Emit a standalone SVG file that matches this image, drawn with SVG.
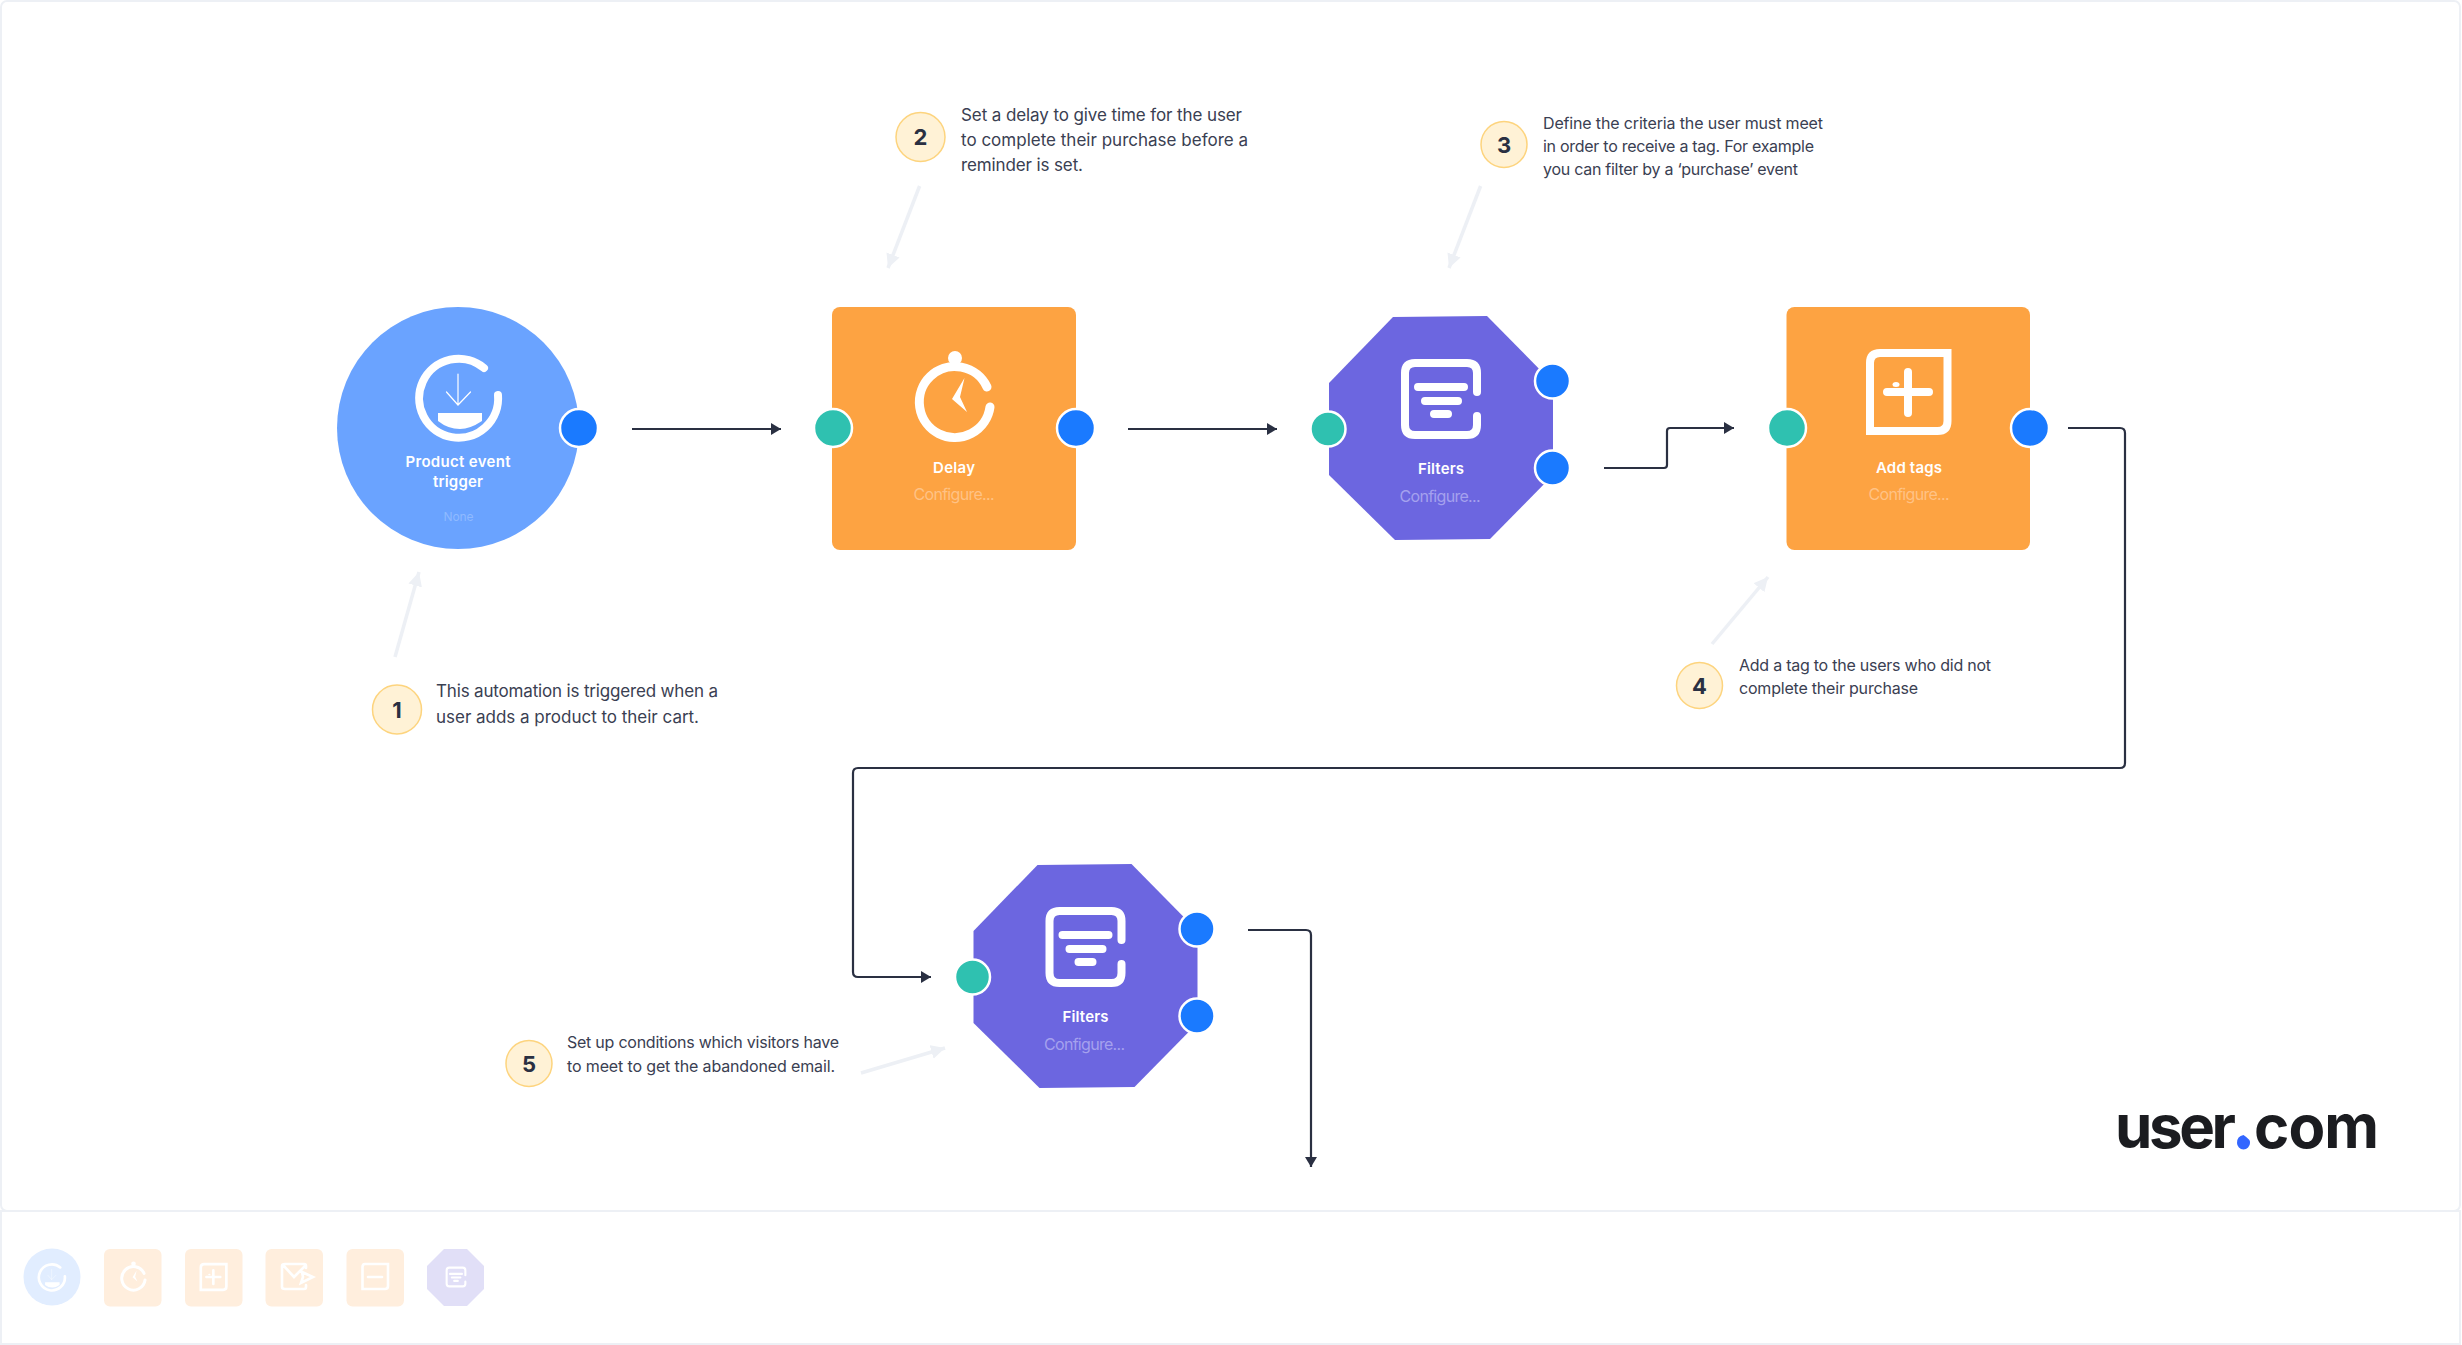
<svg xmlns="http://www.w3.org/2000/svg" xmlns:xlink="http://www.w3.org/1999/xlink" width="2462" height="1345" viewBox="0 0 2462 1345">
<style>
text{font-family:"Inter","Liberation Sans",sans-serif}
.note{font-size:17px;fill:#3a4052}
.note2{font-size:16px;fill:#3a4052}
.num{font-size:22px;font-weight:700;fill:#2a3042;text-anchor:middle}
.badge{fill:#fff2d6;stroke:#fdd47e;stroke-width:1.5}
.title{font-size:15px;font-weight:600;fill:#fff;text-anchor:middle}
.sub{font-size:16px;text-anchor:middle}
.in{fill:#2fc1b0;stroke:#fff;stroke-width:2.5}
.out{fill:#1a7aff;stroke:#fff;stroke-width:2.5}
.flow{fill:none;stroke:#2a3042;stroke-width:2.2;marker-end:url(#ah)}
.hint{fill:none;stroke:#edf0f5;stroke-width:3.5;marker-end:url(#gh)}
.ic{fill:none;stroke:#fff;stroke-linecap:round}
.pal-o{fill:#ffeedd}
.frame{fill:#fff;stroke:#edf0f5;stroke-width:2}
.logo{font-size:60px;font-weight:700;fill:#1b1c20}
</style>
<defs>
<marker id="ah" markerUnits="userSpaceOnUse" markerWidth="12" markerHeight="14" refX="10" refY="6" orient="auto"><path d="M0 0L10 6L0 12Z" fill="#2a3042"/></marker>
<marker id="gh" markerUnits="userSpaceOnUse" markerWidth="16" markerHeight="16" refX="14" refY="7" orient="auto"><path d="M0 0L14 7L0 14Z" fill="#edf0f5"/></marker>
<g id="i-trigger">
<path class="ic" stroke-width="8" d="M484 368A39.5 39.5 0 1 0 498 395"/>
<path class="ic" stroke-width="1.2" d="M458 374V405M446.500 392L458 405L470.500 392"/>
<path fill="#fff" d="M438 413H482V421Q470 429 460 429Q448 429 438 421Z"/>
</g>
<g id="i-clock">
<circle cx="955" cy="358" r="7" fill="#fff"/>
<path class="ic" stroke-width="9" d="M987 387A35.500 35.500 0 1 0 990 407"/>
<path fill="#fff" d="M964.500 378L960 397L967 412L952 399Z"/>
</g>
<g id="i-filter">
<path class="ic" stroke-width="8" d="M1477 392V373Q1477 363 1467 363H1415Q1405 363 1405 373V425Q1405 435 1415 435H1467Q1477 435 1477 425V416"/>
<path class="ic" stroke-width="8" d="M1418 387H1464M1425 401H1458M1434 414H1448"/>
</g>
<g id="i-plus">
<path fill="none" stroke="#fff" stroke-width="8" d="M1947.500 353V421Q1947.500 431 1937.500 431H1870V363Q1870 353 1880 353Z"/>
<path class="ic" stroke-width="8" d="M1887 392H1929M1908 372V413"/>
<ellipse cx="1896" cy="384.500" rx="3.500" ry="2.500" fill="#fff"/>
</g>
<g id="filter-shape">
<path fill="#6c66e0" d="M1393 317L1487 316L1553 383V475L1490 539L1395 540L1329 475V383Z"/>
<use href="#i-filter"/>
<text class="title" x="1441" y="474" textLength="46">Filters</text>
<text class="sub" x="1440" y="502" textLength="81" fill="#a5a1ee">Configure...</text>
<circle class="in" cx="1328" cy="429" r="17.500"/>
<circle class="out" cx="1552.500" cy="381" r="17.500"/>
<circle class="out" cx="1552.500" cy="468" r="17.500"/>
</g>
</defs>

<g id="frame">
<rect class="frame" x="1" y="1" width="2459" height="1210" rx="6"/>
<rect class="frame" x="1" y="1211" width="2459" height="133"/>
</g>

<g id="connectors">
<path class="flow" d="M632 429H781"/>
<path class="flow" d="M1128 429H1277"/>
<path class="flow" d="M1604 468H1664Q1667 468 1667 465V431Q1667 428 1670 428H1734"/>
<path class="flow" d="M2068 428H2120Q2125 428 2125 433V763Q2125 768 2120 768H858Q853 768 853 773V972Q853 977 858 977H931"/>
<path class="flow" d="M1248 930H1306Q1311 930 1311 935V1167"/>
<path class="hint" d="M395 657L419 572"/>
<path class="hint" d="M919.600 186L888 268"/>
<path class="hint" d="M1480.600 186L1449 268"/>
<path class="hint" d="M1712 644L1768 577"/>
<path class="hint" d="M861 1073L945 1048"/>
</g>

<g id="node-trigger">
<circle cx="458" cy="428" r="121" fill="#6aa3ff"/>
<use href="#i-trigger"/>
<text class="title" x="458" y="467" textLength="105">Product event</text>
<text class="title" x="458" y="487" textLength="50">trigger</text>
<text class="sub" x="458.500" y="521" textLength="30" style="font-size:12px" fill="#8fbaff">None</text>
<circle class="out" cx="579" cy="428" r="19"/>
</g>
<g id="node-delay">
<rect x="832" y="307" width="244" height="243" rx="8" fill="#fda342"/>
<use href="#i-clock"/>
<text class="title" x="954" y="473" textLength="42">Delay</text>
<text class="sub" x="954" y="500" textLength="81" fill="#ffc285">Configure...</text>
<circle class="in" cx="833" cy="428" r="19"/>
<circle class="out" cx="1076" cy="428" r="19"/>
</g>
<g id="node-filters-1"><use href="#filter-shape"/></g>
<g id="node-addtags">
<rect x="1786.500" y="307" width="243.500" height="243" rx="8" fill="#fda342"/>
<use href="#i-plus"/>
<text class="title" x="1909" y="473" textLength="66">Add tags</text>
<text class="sub" x="1909" y="500" textLength="81" fill="#ffc285">Configure...</text>
<circle class="in" cx="1787" cy="428" r="19"/>
<circle class="out" cx="2030" cy="428" r="19"/>
</g>
<g id="node-filters-2"><use href="#filter-shape" transform="translate(-355.500 548)"/></g>

<g id="note-1">
<circle class="badge" cx="397" cy="709.500" r="24.500"/>
<text class="num" x="397" y="718">1</text>
<text class="note" x="436" y="697" textLength="282">This automation is triggered when a</text>
<text class="note" x="436" y="723" textLength="263">user adds a product to their cart.</text>
</g>
<g id="note-2">
<circle class="badge" cx="920.500" cy="137" r="24.500"/>
<text class="num" x="920.500" y="145">2</text>
<text class="note" x="961" y="121" textLength="281">Set a delay to give time for the user</text>
<text class="note" x="961" y="146" textLength="287">to complete their purchase before a</text>
<text class="note" x="961" y="171" textLength="122">reminder is set.</text>
</g>
<g id="note-3">
<circle class="badge" cx="1504" cy="144.500" r="23"/>
<text class="num" x="1504" y="152.500">3</text>
<text class="note2" x="1543" y="129" textLength="280">Define the criteria the user must meet</text>
<text class="note2" x="1543" y="152" textLength="271">in order to receive a tag. For example</text>
<text class="note2" x="1543" y="175" textLength="255">you can filter by a ‘purchase’ event</text>
</g>
<g id="note-4">
<circle class="badge" cx="1699.500" cy="685.500" r="23"/>
<text class="num" x="1699.500" y="693.500">4</text>
<text class="note2" x="1739" y="671" textLength="252">Add a tag to the users who did not</text>
<text class="note2" x="1739" y="694" textLength="179">complete their purchase</text>
</g>
<g id="note-5">
<circle class="badge" cx="529" cy="1063.500" r="23"/>
<text class="num" x="529" y="1071.500">5</text>
<text class="note2" x="567" y="1048" textLength="272">Set up conditions which visitors have</text>
<text class="note2" x="567" y="1072" textLength="268">to meet to get the abandoned email.</text>
</g>

<g id="logo">
<text class="logo" x="2115" y="1148" textLength="121">user</text>
<path d="M2243.500 1135Q2251 1140 2250 1143A6.500 6.500 0 0 1 2237 1143Q2237 1136 2243.500 1135Z" fill="#3366ff"/>
<text class="logo" x="2254" y="1148" textLength="125">com</text>
</g>

<g id="palette">
<g id="pal-trigger"><circle cx="52" cy="1277" r="28.500" fill="#e1edff"/><use href="#i-trigger" transform="translate(52 1277) scale(.33) translate(-459 -397)"/></g>
<g id="pal-delay"><rect class="pal-o" x="104" y="1249" width="57.500" height="57.500" rx="6"/><use href="#i-clock" transform="translate(133.500 1277) scale(.33) translate(-955 -398)"/></g>
<g id="pal-add"><rect class="pal-o" x="185" y="1249" width="57.500" height="57.500" rx="6"/><use href="#i-plus" transform="translate(213.500 1277) scale(.33) translate(-1908.500 -392)"/></g>
<g id="pal-email"><rect class="pal-o" x="265.500" y="1249" width="57.500" height="57.500" rx="6"/>
<path fill="none" stroke="#fff" stroke-width="2.600" stroke-linecap="round" d="M306 1268V1266Q306 1264 304 1264H285Q282 1264 282 1266V1287Q282 1289 285 1289H304Q306 1289 306 1287V1285M283 1265L294 1277L305 1266M302 1272L313 1277L301 1283L303 1277Z"/></g>
<g id="pal-remove"><rect class="pal-o" x="346.500" y="1249" width="57.500" height="57.500" rx="6"/>
<path fill="none" stroke="#fff" stroke-width="2.600" d="M388 1264V1286Q388 1289 385 1289H362.500V1267Q362.500 1264 365 1264Z"/><path class="ic" stroke-width="2.600" d="M368 1277H382"/></g>
<g id="pal-filter"><path d="M444 1249H467L484 1266V1289L467 1306H444L427 1289V1266Z" fill="#e1dff7"/><use href="#i-filter" transform="translate(456 1277) scale(.26) translate(-1441 -399)"/></g>
</g>
</svg>
